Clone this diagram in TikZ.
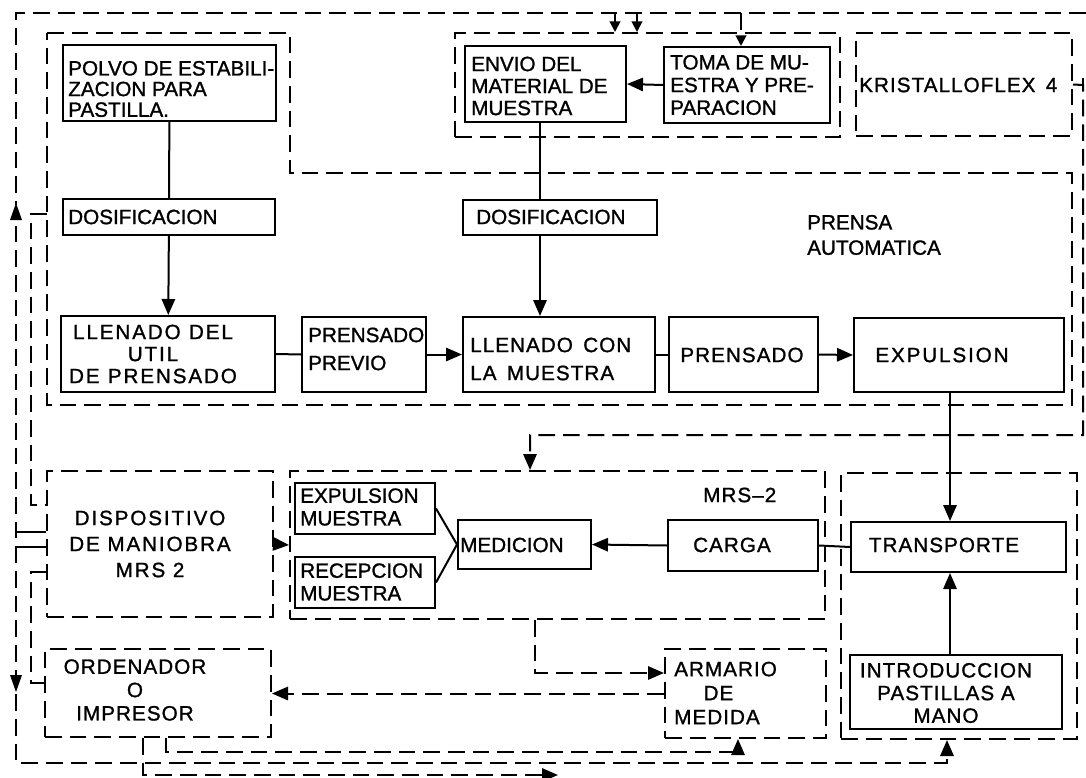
\documentclass[tikz,border=0pt]{standalone}
\usepackage{fontspec}
\setmainfont{Liberation Sans}
\newfontfamily\fA{Liberation Sans}[FakeBold=1.2]
\newfontfamily\fB{Liberation Sans}[LetterSpace=5,FakeBold=1.2]
\newfontfamily\fC{Liberation Sans}[LetterSpace=9,FakeBold=1.2]
\usetikzlibrary{arrows.meta,fit}
\begin{document}
\begin{tikzpicture}[x=0.75pt,y=-0.75pt,
  lw/.style={line width=1.5pt},
  sbox/.style={draw,lw,rectangle,inner sep=0pt},
  dsh/.style={dash pattern=on 12.5pt off 6pt},
  dbox/.style={sbox,dsh},
  dl/.style={lw,dsh},
  tip/.style={-{Triangle[length=12pt,width=10pt]}},
  stip/.style={-{Triangle[length=8pt,width=8pt]}},
  tx/.style={inner sep=0pt,align=left,font=\fA\fontsize{15.5}{#1}\selectfont},
  txB/.style={inner sep=0pt,align=center,font=\fB\fontsize{15.5}{#1}\selectfont},
  txC/.style={inner sep=0pt,align=center,font=\fC\fontsize{15.5}{#1}\selectfont},
  txL/.style={inner sep=0pt,align=left,font=\fB\fontsize{15.5}{#1}\selectfont}
]
\useasboundingbox (0,0) rectangle (1086,778);

% ---------- solid boxes ----------
\node[sbox,fit={(63,45) (276,121)}] (polvo) {};
\node[sbox,fit={(465,46) (626,122)}] (envio) {};
\node[sbox,fit={(664,47) (830,123)}] (toma) {};
\node[sbox,fit={(63,199) (275,235)}] (dos1) {};
\node[sbox,fit={(463,200) (657,235)}] (dos2) {};
\node[sbox,fit={(61,316) (275,392)}] (llen1) {};
\node[sbox,fit={(302,317) (426,392)}] (pprev) {};
\node[sbox,fit={(463,317) (655,392)}] (llen2) {};
\node[sbox,fit={(669,317) (818,392)}] (prens) {};
\node[sbox,fit={(854,318) (1064,392)}] (expul) {};
\node[sbox,fit={(295,483) (435,534)}] (expm) {};
\node[sbox,fit={(295,557) (435,608)}] (recm) {};
\node[sbox,fit={(458,520) (591,569)}] (medic) {};
\node[sbox,fit={(668,520) (818,571)}] (carga) {};
\node[sbox,fit={(851,522) (1066,572)}] (transp) {};
\node[sbox,fit={(850,655) (1062,729)}] (intro) {};

% ---------- dashed groups ----------
\draw[dl] (47,33) -- (290,33) -- (290,173) -- (1072,173) -- (1072,405) -- (47,405) -- cycle;
\node[dbox,fit={(455,33) (840,137)}] (envg) {};
\node[dbox,fit={(856,33) (1072,136)}] (krist) {};
\node[dbox,fit={(47,471) (273,617)}] (disp) {};
\node[dbox,fit={(290,471) (825,619)}] (mrsg) {};
\node[dbox,fit={(841,473) (1077,739)}] (trang) {};
\node[dbox,fit={(45,649) (271,737)}] (orden) {};
\node[dbox,fit={(665,649) (826,738)}] (armar) {};

% ---------- texts ----------
\node[tx=15.5pt,anchor=west] (tpolvo) at (68,89) {POLVO DE ESTABILI-\\ZACION PARA\\PASTILLA.};
\node[tx=16.5pt,anchor=west] (tenvio) at (471,86) {ENVIO DEL\\MATERIAL DE\\MUESTRA};
\node[tx=17pt,anchor=west] (ttoma) at (670,85) {TOMA DE MU-\\ESTRA Y PRE-\\PARACION};
\node[txL=17pt,anchor=west] (tkrist) at (859,85) {KRISTALLOFLEX\hspace{0.5em}4};
\node[tx=17pt,anchor=west] (tdos1) at (68,217) {DOSIFICACION};
\node[tx=17pt,anchor=west] (tdos2) at (476,217) {DOSIFICACION};
\node[tx=19pt,anchor=west] (tprensa) at (807,235) {PRENSA\\AUTOMATICA};
\node[txC=16.5pt] (tllen1) at (153,354) {LLENADO\hspace{0.4em}DEL\\UTIL\\DE\hspace{0.4em}PRENSADO};
\node[tx=21pt,anchor=west] (tpprev) at (308,349) {PRENSADO\\PREVIO};
\node[txL=21pt,anchor=west] (tllen2) at (470,359) {LLENADO\hspace{0.5em}CON\\LA\hspace{0.5em}MUESTRA};
\node[txB=17pt] (tprens) at (742,355) {PRENSADO};
\node[txC=17pt] (texpul) at (942,355) {EXPULSION};
\node[txC=19.5pt] (tdisp) at (150,544) {DISPOSITIVO\\DE MANIOBRA\\MRS 2};
\node[tx=17pt,anchor=west] (texpm) at (300,507) {EXPULSION\\MUESTRA};
\node[tx=17pt,anchor=west] (trecm) at (300,582) {RECEPCION\\MUESTRA};
\node[tx=17pt,anchor=west] (tmedic) at (460,545) {MEDICION};
\node[txL=17pt,anchor=west] (tmrs) at (703,495) {MRS\textendash 2};
\node[txB=17pt] (tcarga) at (732,545) {CARGA};
\node[txB=17pt] (ttransp) at (944,545) {TRANSPORTE};
\node[txB=17.5pt] (torden) at (135,690) {ORDENADOR\\O\\IMPRESOR};
\node[txL=18pt,anchor=west] (tarmar) at (674,693) {ARMARIO\\\hspace*{22pt}DE\\MEDIDA};
\node[txB=17pt] (tintro) at (946,693) {INTRODUCCION\\PASTILLAS A\\MANO};

% ---------- helper coordinates ----------
\coordinate (cx540) at (540,0);
\coordinate (cx950) at (950,0);
\coordinate (cx615) at (615,13);
\coordinate (cx637) at (637,13);
\coordinate (cx741) at (741,13);
\coordinate (cx530) at (530,435);
\coordinate (cx535) at (535,673);
\coordinate (cx166) at (166,752);
\coordinate (cx738) at (738,752);
\coordinate (cx143) at (143,775);
\coordinate (endB) at (558,775);
\coordinate (cx947) at (947,763);
\coordinate (bl) at (16,763);
\coordinate (tl) at (16,13);
\coordinate (topR) at (1086,13);
\coordinate (rT) at (1083,78);
\coordinate (rH) at (1083,85);
\coordinate (rB) at (1083,435);
\coordinate (pA) at (47,214);
\coordinate (iA1) at (31,214);
\coordinate (iA2) at (31,505);
\coordinate (iB1) at (31,572);
\coordinate (iB2) at (31,683);
\coordinate (h1) at (16,532);
\coordinate (h2) at (16,547);

% ---------- solid connectors ----------
\draw[lw] (polvo) -- (dos1);
\draw[lw,tip] (dos1) -- (llen1);
\draw[lw] (envio.south -| cx540) -- (dos2.north -| cx540);
\draw[lw,tip] (dos2.south -| cx540) -- (llen2.north -| cx540);
\draw[lw] (llen1.east) -- (pprev.west);
\draw[lw,tip] (pprev.east) -- (llen2.west);
\draw[lw] (llen2.east) -- (prens.west);
\draw[lw,tip] (prens.east) -- (expul.west);
\draw[lw,tip] (expul.south -| cx950) -- (transp.north -| cx950);
\draw[lw,tip] (intro.north -| cx950) -- (transp.south -| cx950);
\draw[lw,tip] (carga.west) -- (medic.east);
\draw[lw] (carga.east) -- (transp.west);
\draw[lw] (expm.east) -- (medic.west);
\draw[lw] (recm.east) -- (medic.west);
\draw[lw,tip] (toma.west) -- (envio.east);
\draw[lw,tip] (disp.east) -- (mrsg.west);

% ---------- dashed connectors ----------
\draw[dl,tip] (topR) -- (tl) -- (bl) -- (cx947) -- (trang.south -| cx947);
\fill (16,203) -- (10,220) -- (22,220) -- cycle;
\fill (16,692) -- (10,675) -- (22,675) -- cycle;
\draw[lw,stip] (cx615) -- (envg.north -| cx615);
\draw[lw,stip] (cx637) -- (envg.north -| cx637);
\draw[dl,stip] (cx741) -- (toma.north -| cx741);
\draw[lw] (rT) -- (rH);
\draw[dl,tip] (krist.east) -- (rH) -- (rB) -- (cx530) -- (mrsg.north -| cx530);
\draw[dl] (pA) -- (iA1) -- (iA2) -- (disp.west |- iA2);
\draw[lw] (h1) -- (disp.west |- h1);
\draw[lw] (h2) -- (disp.west |- h2);
\draw[dl] (disp.west |- iB1) -- (iB1) -- (iB2) -- (orden.west |- iB2);
\draw[dl,tip] (mrsg.south -| cx535) -- (cx535) -- (armar.west |- cx535);
\draw[dl,tip] (armar.west) -- (orden.east |- armar.west);
\draw[dl,tip] (orden.south -| cx166) -- (cx166) -- (cx738) -- (armar.south -| cx738);
\draw[dl,tip] (orden.south -| cx143) -- (cx143) -- (endB);
\end{tikzpicture}
\end{document}
